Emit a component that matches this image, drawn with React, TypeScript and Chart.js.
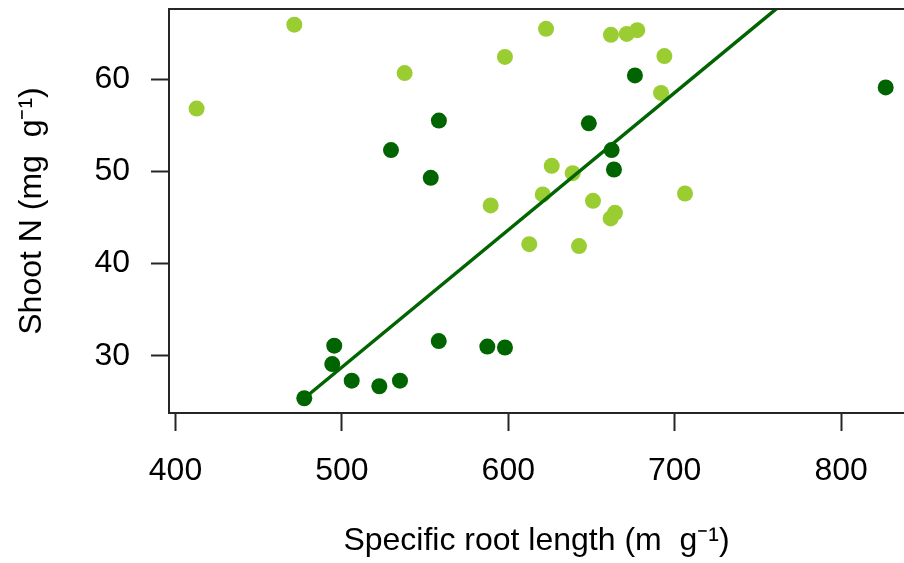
import React, { useEffect, useRef } from "react";
import { Chart, registerables } from "chart.js";

Chart.register(...registerables);

// Light green group (yellowgreen)
const lightX = [412.7, 471.4, 537.7, 598.0, 622.7, 661.7, 671.2, 677.5, 693.8, 691.8, 706.2, 626.1, 638.7, 620.7, 650.9, 664.1, 661.5, 612.6, 642.5, 589.4];
const lightY = [56.8, 65.9, 60.65, 62.4, 65.45, 64.8, 64.9, 65.3, 62.5, 58.5, 47.6, 50.6, 49.8, 47.5, 46.8, 45.5, 44.9, 42.1, 41.9, 46.3];

// Dark green group
const darkX = [558.3, 529.5, 553.4, 676.1, 826.8, 662.1, 663.5, 648.4, 598.0, 495.4, 494.2, 505.9, 522.5, 534.9, 477.4, 558.2, 587.4];
const darkY = [55.5, 52.3, 49.3, 60.4, 59.1, 52.3, 50.2, 55.2, 30.9, 31.1, 29.1, 27.3, 26.7, 27.3, 25.4, 31.6, 31.0];

// Fitted regression line (dark group), end points
const fitX = [477.4, 826.8];
const fitY = [25.4, 77.4];

const xTicks = [400, 500, 600, 700, 800];
const yTicks = [30, 40, 50, 60];

const xRange = [396.1, 837.8];
const yRange = [23.8, 67.6];

const xTitle = "Specific root length (m  g\u207B\u00B9)";
const yTitle = "Shoot N (mg  g\u207B\u00B9)";

const DARK = "#006400";
const LIGHT = "#9ACD32";
const AXIS = "#262626";
const FONT = "'Liberation Sans', Arial, Helvetica, sans-serif";

const topBorder = {
  id: "topBorder",
  afterDraw(chart: any) {
    const { ctx, chartArea } = chart;
    ctx.save();
    ctx.strokeStyle = AXIS;
    ctx.lineWidth = 2;
    ctx.beginPath();
    ctx.moveTo(chartArea.left - 1, chartArea.top);
    ctx.lineTo(chartArea.right, chartArea.top);
    ctx.stroke();
    ctx.restore();
  },
};

export default function App() {
  const ref = useRef<HTMLCanvasElement | null>(null);

  useEffect(() => {
    if (!ref.current) return;
    const chart = new Chart(ref.current, {
      type: "scatter",
      data: {
        datasets: [
          {
            type: "line",
            label: "fit",
            data: fitX.map((x, i) => ({ x, y: fitY[i] })),
            borderColor: DARK,
            borderWidth: 3.5,
            pointRadius: 0,
            showLine: true,
            fill: false,
          } as any,
          {
            label: "dark",
            data: darkX.map((x, i) => ({ x, y: darkY[i] })),
            backgroundColor: DARK,
            borderWidth: 0,
            pointRadius: 8,
          },
          {
            label: "light",
            data: lightX.map((x, i) => ({ x, y: lightY[i] })),
            backgroundColor: LIGHT,
            borderWidth: 0,
            pointRadius: 8,
          },
        ],
      },
      options: {
        animation: false,
        responsive: false,
        maintainAspectRatio: false,
        devicePixelRatio: 1,
        layout: { autoPadding: false, padding: { top: 9, left: 0, right: 0, bottom: 0 } },
        plugins: {
          legend: { display: false },
          tooltip: { enabled: false },
        },
        scales: {
          x: {
            type: "linear",
            min: xRange[0],
            max: xRange[1],
            afterBuildTicks: (scale: any) => {
              scale.ticks = xTicks.map((v) => ({ value: v }));
            },
            afterFit: (scale: any) => {
              scale.height = 150;
              scale.paddingLeft = 0;
              scale.paddingRight = 0;
            },
            grid: {
              drawOnChartArea: false,
              drawTicks: true,
              tickLength: 18,
              tickWidth: 2,
              tickColor: AXIS,
              color: AXIS,
            },
            border: { display: true, color: AXIS, width: 2 },
            ticks: {
              autoSkip: false,
              maxRotation: 0,
              padding: 21,
              color: "#000",
              font: { family: FONT, size: 32 },
            },
            title: {
              display: true,
              text: xTitle,
              color: "#000",
              font: { family: FONT, size: 32 },
              padding: { top: 0, bottom: 3 },
            },
          },
          y: {
            type: "linear",
            min: yRange[0],
            max: yRange[1],
            afterBuildTicks: (scale: any) => {
              scale.ticks = yTicks.map((v) => ({ value: v }));
            },
            afterFit: (scale: any) => {
              scale.width = 169;
              scale.paddingTop = 0;
              scale.paddingBottom = 0;
            },
            grid: {
              drawOnChartArea: false,
              drawTicks: true,
              tickLength: 18,
              tickWidth: 2,
              tickColor: AXIS,
              color: AXIS,
            },
            border: { display: true, color: AXIS, width: 2 },
            ticks: {
              autoSkip: false,
              padding: 21,
              color: "#000",
              font: { family: FONT, size: 32 },
            },
            title: {
              display: true,
              text: yTitle,
              color: "#000",
              font: { family: FONT, size: 32 },
              padding: { top: 13, bottom: 0 },
            },
          },
        },
      },
      plugins: [topBorder],
    } as any);
    return () => chart.destroy();
  }, []);

  return (
    <div
      style={{
        position: "fixed",
        left: 0,
        top: 0,
        width: 904,
        height: 563,
        background: "#fff",
        overflow: "hidden",
      }}
    >
      <canvas ref={ref} width={904} height={563} style={{ display: "block" }} />
    </div>
  );
}
